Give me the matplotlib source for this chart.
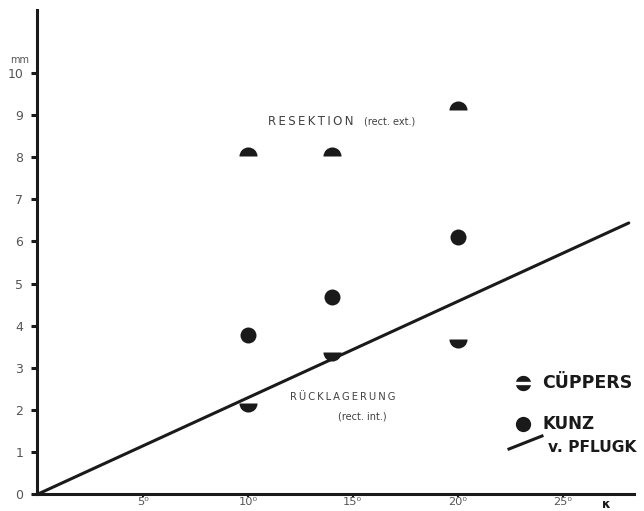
import numpy as np
import matplotlib
matplotlib.use("Agg")
import matplotlib.pyplot as plt
from matplotlib.path import Path

# ---- data ----
x_ticks = [5, 10, 15, 20, 25]
x_tick_labels = ["5\u2070", "10\u2070", "15\u2070", "20\u2070", "25\u2070"]
y_ticks = [0, 1, 2, 3, 4, 5, 6, 7, 8, 9, 10]
y_tick_labels = [str(v) for v in y_ticks]

angles = [10, 14, 20]
cuppers_resektion = [8.02, 8.04, 9.12]
cuppers_ruecklagerung = [2.16, 3.38, 3.68]
kunz = [3.78, 4.68, 6.1]
pflugk_x = [0, 28.15]
pflugk_y = [0, 6.44]

INK = "#1a1a1a"
GREY = "#404040"
TS = "\u2009"  # thin space for letter spacing

def spaced(s):
    return TS.join(list(s))

fig = plt.figure(figsize=(6.44, 5.11), dpi=100)
ax = fig.add_axes([37 / 644, 17 / 511, (634 - 37) / 644, (494 - 10) / 511])
ax.set_xlim(-0.05, 28.4)
ax.set_ylim(0, 11.5)

for s in ["top", "right"]:
    ax.spines[s].set_visible(False)
for s in ["left", "bottom"]:
    ax.spines[s].set_linewidth(2.2)
    ax.spines[s].set_color(INK)

ax.set_yticks(y_ticks)
ax.set_yticklabels(y_tick_labels)
ax.set_xticks(x_ticks)
ax.set_xticklabels(x_tick_labels)
ax.tick_params(axis="y", direction="out", length=4, width=2.2, color=INK,
               labelsize=9, labelcolor="#555555", pad=6)
ax.tick_params(axis="x", direction="out", length=2, width=1.5, color=INK,
               labelsize=8.2, labelcolor="#555555", pad=0)
ax.text(-0.9, 10.19, "mm", ha="center", va="bottom", fontsize=7,
        color="#555555", clip_on=False)
ax.text(27.1, -0.25, "\u03ba", ha="center", va="center", fontsize=9,
        color=INK, fontweight="bold", clip_on=False)

# Pflugk line
ax.plot(pflugk_x, pflugk_y, color=INK, lw=2.2, solid_capstyle="round")

# Cuppers half discs
ax.plot(angles, cuppers_resektion, ls="none", marker="o", markersize=13,
        fillstyle="top", markerfacecolor=INK, markerfacecoloralt="none",
        markeredgewidth=0)
ax.plot(angles, cuppers_ruecklagerung, ls="none", marker="o", markersize=13,
        fillstyle="bottom", markerfacecolor=INK, markerfacecoloralt="none",
        markeredgewidth=0)
# Kunz dots
ax.plot(angles, kunz, ls="none", marker="o", markersize=11.5,
        color=INK, markeredgewidth=0)

# annotations
ax.text(10.95, 8.86, spaced("RESEKTION"), fontsize=8.5, color=GREY,
        va="center", ha="left")
ax.text(15.55, 8.84, "(rect. ext.)", fontsize=7, color=GREY,
        va="center", ha="left")
ax.text(12.0, 2.30, spaced("RÜCKLAGERUNG"), fontsize=7.2, color=GREY,
        va="center", ha="left")
ax.text(14.3, 1.83, "(rect. int.)", fontsize=7, color=GREY,
        va="center", ha="left")

# legend (custom, frameless)
h = 0.22
t0 = np.degrees(np.arcsin(h))
th = np.radians(np.linspace(t0, 180 - t0, 40))
top = np.column_stack([np.cos(th), np.sin(th)])
bot = top * np.array([1, -1])
verts = np.vstack([top, top[:1], bot, bot[:1]])
codes = ([Path.MOVETO] + [Path.LINETO] * (len(top) - 1) + [Path.CLOSEPOLY]) * 2
cup_marker = Path(verts, codes)

ax.plot([(523 - 37) / 597], [(494 - 383) / 484], transform=ax.transAxes,
        marker=cup_marker, markersize=11, color=INK, markeredgewidth=0, clip_on=False)
ax.plot([(523 - 37) / 597], [(494 - 424) / 484], transform=ax.transAxes,
        marker="o", markersize=11, color=INK, markeredgewidth=0, clip_on=False)
ax.plot([(509 - 37) / 597, (542 - 37) / 597], [(494 - 449) / 484, (494 - 436) / 484],
        transform=ax.transAxes, color=INK, lw=2.2, clip_on=False)

legend_labels = ["CÜPPERS", "KUNZ", "v. PFLUGK"]
legend_y = [383, 424, 448]
legend_x = [542, 543, 548]
legend_size = [12.5, 12, 11.2]
for lab, yy, xx, fs in zip(legend_labels, legend_y, legend_x, legend_size):
    fig.text(xx / 644, 1 - yy / 511, lab, fontsize=fs, fontweight="bold",
             color=INK, va="center", ha="left", family="DejaVu Sans")

fig.savefig("out.png", dpi=100, facecolor="white")
